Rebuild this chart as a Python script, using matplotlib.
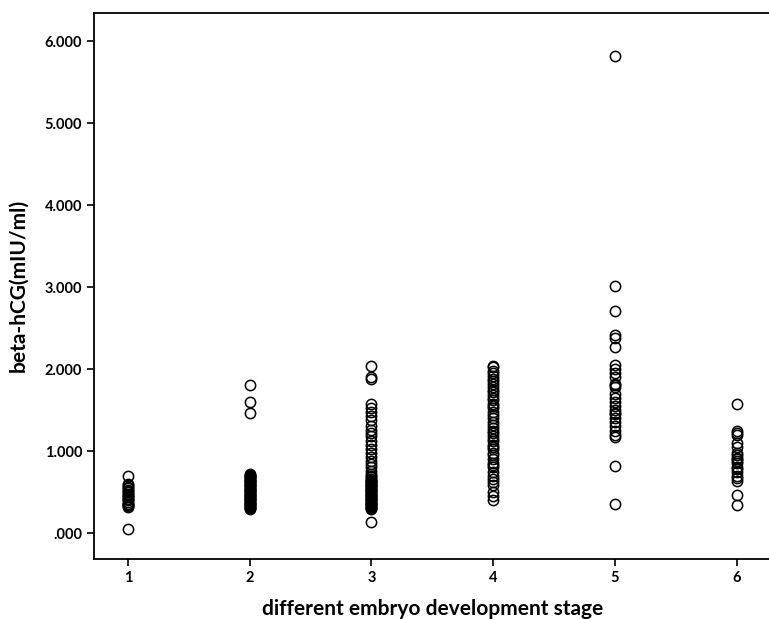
import numpy as np
import matplotlib
matplotlib.use('Agg')
import matplotlib.pyplot as plt
from matplotlib.ticker import FuncFormatter

# beta-hCG werte je embryo-stadium (achse in 1.000 mIU/ml)
stage_1 = [0.05, 0.32, 0.33, 0.34, 0.35, 0.36, 0.38, 0.40, 0.41, 0.42, 0.44, 0.45, 0.47, 0.48,
           0.50, 0.51, 0.53, 0.55, 0.56, 0.58, 0.60, 0.70]
stage_2 = [0.29, 0.30, 0.31, 0.32, 0.33, 0.34, 0.35, 0.36, 0.37, 0.38, 0.39, 0.40, 0.41, 0.42,
           0.43, 0.44, 0.45, 0.46, 0.47, 0.48, 0.49, 0.50, 0.51, 0.52, 0.53, 0.54, 0.55, 0.56,
           0.57, 0.58, 0.59, 0.60, 0.61, 0.62, 0.63, 0.64, 0.65, 0.66, 0.67, 0.68, 0.69, 0.70,
           0.71, 0.72, 1.47, 1.60, 1.80]
stage_3 = [0.13, 0.29, 0.30, 0.31, 0.32, 0.33, 0.34, 0.35, 0.36, 0.37, 0.38, 0.39, 0.40, 0.41,
           0.42, 0.43, 0.44, 0.45, 0.46, 0.47, 0.48, 0.49, 0.50, 0.51, 0.52, 0.53, 0.54, 0.55,
           0.56, 0.57, 0.58, 0.59, 0.60, 0.61, 0.62, 0.63, 0.64, 0.65, 0.66, 0.68, 0.70, 0.72,
           0.76, 0.80, 0.84, 0.88, 0.93, 0.98, 1.02, 1.08, 1.12, 1.18, 1.22, 1.26, 1.30,
           1.38, 1.43, 1.48, 1.52, 1.58, 1.88, 1.90, 2.04]
stage_4 = [0.40, 0.45, 0.50, 0.58, 0.62, 0.66, 0.70, 0.75, 0.80, 0.83, 0.86, 0.90, 0.95, 0.98,
           1.02, 1.05, 1.08, 1.12, 1.15, 1.18, 1.22, 1.25, 1.28, 1.32, 1.35, 1.40, 1.44, 1.48,
           1.52, 1.55, 1.58, 1.62, 1.65, 1.68, 1.72, 1.75, 1.78, 1.82, 1.85, 1.88, 1.92, 1.95,
           1.98, 2.02, 2.04]
stage_5 = [0.36, 0.82, 1.17, 1.20, 1.25, 1.30, 1.35, 1.40, 1.45, 1.47, 1.50, 1.55, 1.60, 1.65,
           1.70, 1.78, 1.80, 1.82, 1.90, 1.95, 2.00, 2.05, 2.27, 2.38, 2.41, 2.71, 3.01, 5.82]
stage_6 = [0.34, 0.47, 0.64, 0.67, 0.70, 0.75, 0.78, 0.80, 0.85, 0.88, 0.90, 0.92, 0.95, 0.98,
           1.05, 1.10, 1.20, 1.22, 1.24, 1.57]
stages = [1, 2, 3, 4, 5, 6]
values = [stage_1, stage_2, stage_3, stage_4, stage_5, stage_6]
y_ticks = [0, 1, 2, 3, 4, 5, 6]

plt.rcParams['font.family'] = ['Lato', 'DejaVu Sans']

fig = plt.figure(figsize=(7.69, 6.19), dpi=100)
ax = fig.add_axes([0.1222, 0.0969, 0.880, 0.8829])

for s, v in zip(stages, values):
    ax.plot([s] * len(v), v, linestyle='none', marker='o', markersize=7.4,
            markerfacecolor='none', markeredgecolor='black', markeredgewidth=1.1)

ax.set_xlim(0.72, 6.28)
ax.set_ylim(-0.317, 6.35)
ax.set_xticks(stages)
ax.set_yticks(y_ticks)

# SPSS-stil: ".000", "1.000" ...
def fmt(v, pos):
    s = '%.3f' % v
    return s[1:] if s.startswith('0') else s
ax.yaxis.set_major_formatter(FuncFormatter(fmt))

for side in ['left', 'bottom', 'top']:
    ax.spines[side].set_linewidth(1.3)
ax.spines['right'].set_visible(False)
ax.tick_params(direction='out', length=5, width=1.2, labelsize=10.5)
for lab in ax.get_xticklabels() + ax.get_yticklabels():
    lab.set_fontweight('bold')

ax.set_xlabel('different embryo development stage', fontsize=15, fontweight='bold', labelpad=10)
ax.set_ylabel('beta-hCG(mIU/ml)', fontsize=15, fontweight='bold', labelpad=12)

fig.savefig('out.png', dpi=100)
